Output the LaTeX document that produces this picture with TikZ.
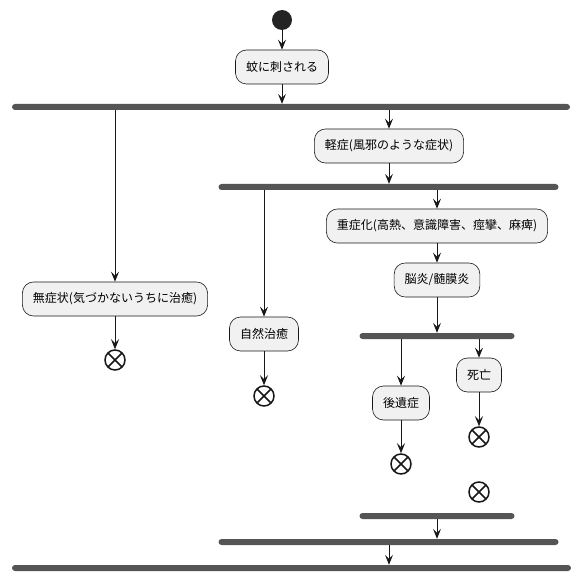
\documentclass[tikz,border=0pt]{standalone}
\usepackage{fontspec}
\setmainfont{Noto Sans CJK JP}
\usetikzlibrary{arrows.meta}
\definecolor{boxfill}{HTML}{F1F1F1}
\definecolor{boxline}{HTML}{181818}
\definecolor{barcol}{HTML}{555555}
\begin{document}
\begin{tikzpicture}[x=1pt, y=-1pt,
  act/.style={rectangle, draw=boxline, fill=boxfill, rounded corners=11pt, line width=0.6pt, minimum height=34pt, inner xsep=10.5pt, font=\fontsize{12}{14}\selectfont},
  bar/.style={rectangle, fill=barcol, rounded corners=3pt, minimum height=6pt, inner sep=0pt, minimum width=#1},
  start/.style={circle, fill=boxline!95!white, minimum size=20pt, inner sep=0pt},
  stop/.style={circle, draw=boxline, line width=1.5pt, fill=white, minimum size=20pt, inner sep=0pt,
    path picture={\draw[line width=1.7pt] ([shift={(45:10pt)}]path picture bounding box.center) -- ([shift={(225:10pt)}]path picture bounding box.center);
                  \draw[line width=1.7pt] ([shift={(135:10pt)}]path picture bounding box.center) -- ([shift={(315:10pt)}]path picture bounding box.center);}},
  arrow/.style={-{Stealth[length=10pt, width=8pt, inset=4pt]}, line width=0.8pt, draw=boxline}
]
  \useasboundingbox (0,0) rectangle (581,580);

  \node[start] (init) at (282,20) {};
  \node[act] (bite) at (282,67) {蚊に刺される};
  \node[bar=558] (fork1) at (291,107) {};

  % left: no symptoms
  \node[act] (asym) at (115,299) {無症状(気づかないうちに治癒)};
  \node[stop] (asymend) at (115,360) {};

  % right: mild
  \node[act] (mild) at (389,146) {軽症(風邪のような症状)};
  \node[bar=340] (fork2) at (388.5,187) {};
  \node[act] (heal) at (264,334) {自然治癒};
  \node[stop] (healend) at (264,396) {};

  \node[act] (severe) at (437,226) {重症化(高熱、意識障害、痙攣、麻痺)};
  \node[act] (enceph) at (437,280) {脳炎/髄膜炎};
  \node[bar=155] (fork3) at (437,336) {};
  \node[act] (sequela) at (401,403) {後遺症};
  \node[stop] (seqend) at (401,464) {};
  \node[act] (death) at (479,375) {死亡};
  \node[stop] (deathend) at (479,437) {};
  \node[stop] (joinend) at (479,492) {};

  \node[bar=155] (join3) at (437,516) {};
  \node[bar=340] (join2) at (388.5,542) {};
  \node[bar=559] (join1) at (291.5,568) {};

  \draw[arrow] (init) -- (bite);
  \draw[arrow] (bite) -- (bite |- fork1.north);
  \draw[arrow] (fork1.south -| asym.north) -- (asym);
  \draw[arrow] (asym) -- (asymend);
  \draw[arrow] (fork1.south -| mild.north) -- (mild);
  \draw[arrow] (mild) -- (mild |- fork2.north);
  \draw[arrow] (fork2.south -| heal.north) -- (heal);
  \draw[arrow] (heal) -- (healend);
  \draw[arrow] (fork2.south -| severe.north) -- (severe);
  \draw[arrow] (severe) -- (enceph);
  \draw[arrow] (enceph) -- (enceph |- fork3.north);
  \draw[arrow] (fork3.south -| sequela.north) -- (sequela);
  \draw[arrow] (sequela) -- (seqend);
  \draw[arrow] (fork3.south -| death.north) -- (death);
  \draw[arrow] (death) -- (deathend);
  \draw[arrow] (join3.south -| severe.south) -- (join2.north -| severe.south);
  \draw[arrow] (join2.south -| mild.south) -- (join1.north -| mild.south);
\end{tikzpicture}
\end{document}
